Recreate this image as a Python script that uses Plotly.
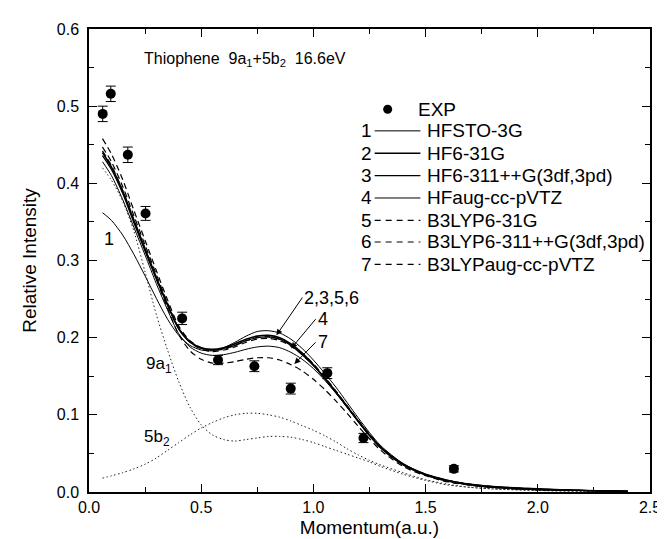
import plotly.graph_objects as go

# experimental momentum profile
expX = [0.061, 0.097, 0.173, 0.252, 0.415, 0.575, 0.737, 0.899, 1.062, 1.223, 1.626]
expY = [0.490, 0.516, 0.437, 0.361, 0.225, 0.171, 0.163, 0.134, 0.154, 0.070, 0.030]
expErr = [0.010, 0.010, 0.010, 0.009, 0.008, 0.006, 0.007, 0.007, 0.007, 0.006, 0.004]

# theory curves, all on the same momentum grid
momentum = [0.06, 0.1, 0.15, 0.2, 0.25, 0.3, 0.35, 0.4, 0.45, 0.5, 0.55, 0.6, 0.65, 0.7,
            0.75, 0.8, 0.85, 0.9, 0.95, 1.0, 1.05, 1.1, 1.15, 1.2, 1.25, 1.3, 1.4, 1.5,
            1.6, 1.7, 1.8, 2.0, 2.2, 2.4]
hfSto3g = [0.362, 0.352, 0.333, 0.308, 0.280, 0.251, 0.224, 0.203, 0.190, 0.184, 0.183, 0.187,
           0.194, 0.202, 0.208, 0.209, 0.206, 0.198, 0.186, 0.171, 0.154, 0.136, 0.116, 0.096,
           0.077, 0.060, 0.037, 0.023, 0.015, 0.010, 0.007, 0.004, 0.002, 0.001]
hf631g = [0.440, 0.421, 0.390, 0.352, 0.315, 0.278, 0.243, 0.212, 0.195, 0.187, 0.185, 0.187,
          0.192, 0.198, 0.202, 0.203, 0.200, 0.192, 0.180, 0.165, 0.148, 0.130, 0.111, 0.092,
          0.074, 0.058, 0.036, 0.023, 0.015, 0.010, 0.007, 0.004, 0.002, 0.001]
hf6311g = [0.436, 0.418, 0.387, 0.349, 0.312, 0.276, 0.242, 0.211, 0.194, 0.186, 0.184, 0.186,
           0.190, 0.196, 0.200, 0.201, 0.198, 0.190, 0.178, 0.164, 0.147, 0.129, 0.110, 0.091,
           0.073, 0.057, 0.035, 0.022, 0.014, 0.009, 0.006, 0.003, 0.002, 0.001]
hfAug = [0.428, 0.410, 0.379, 0.343, 0.307, 0.270, 0.236, 0.205, 0.188, 0.180, 0.177, 0.178,
         0.181, 0.185, 0.188, 0.189, 0.187, 0.181, 0.172, 0.160, 0.145, 0.128, 0.110, 0.091,
         0.073, 0.057, 0.035, 0.022, 0.014, 0.009, 0.006, 0.003, 0.002, 0.001]
b3lyp631g = [0.458, 0.438, 0.405, 0.365, 0.326, 0.287, 0.249, 0.215, 0.196, 0.187, 0.184, 0.185,
             0.190, 0.196, 0.200, 0.201, 0.198, 0.191, 0.180, 0.166, 0.149, 0.131, 0.112, 0.093,
             0.075, 0.059, 0.036, 0.023, 0.015, 0.010, 0.007, 0.004, 0.002, 0.001]
b3lyp6311g = [0.447, 0.428, 0.396, 0.358, 0.320, 0.282, 0.245, 0.212, 0.194, 0.185, 0.182, 0.184,
              0.188, 0.194, 0.198, 0.199, 0.196, 0.189, 0.178, 0.164, 0.148, 0.130, 0.111, 0.092,
              0.074, 0.058, 0.036, 0.022, 0.014, 0.009, 0.006, 0.003, 0.002, 0.001]
b3lypAug = [0.442, 0.423, 0.391, 0.353, 0.315, 0.276, 0.238, 0.204, 0.183, 0.172, 0.167, 0.167,
            0.169, 0.172, 0.174, 0.174, 0.171, 0.165, 0.157, 0.146, 0.133, 0.118, 0.102, 0.085,
            0.069, 0.054, 0.033, 0.021, 0.013, 0.009, 0.006, 0.003, 0.002, 0.001]
# orbital components
orb9a1 = [0.420, 0.404, 0.377, 0.338, 0.285, 0.230, 0.184, 0.143, 0.110, 0.087, 0.074, 0.068,
          0.066, 0.068, 0.070, 0.072, 0.072, 0.071, 0.068, 0.064, 0.059, 0.054, 0.049, 0.044,
          0.039, 0.033, 0.023, 0.015, 0.009, 0.006, 0.004, 0.002, 0.001, 0.0005]
orb5b2 = [0.018, 0.021, 0.025, 0.030, 0.036, 0.044, 0.054, 0.064, 0.074, 0.083, 0.090, 0.096,
          0.100, 0.102, 0.102, 0.100, 0.097, 0.092, 0.086, 0.080, 0.073, 0.065, 0.056, 0.048,
          0.041, 0.035, 0.025, 0.016, 0.010, 0.006, 0.004, 0.002, 0.001, 0.0005]

legendNames = ["HFSTO-3G", "HF6-31G", "HF6-311++G(3df,3pd)", "HFaug-cc-pVTZ",
               "B3LYP6-31G", "B3LYP6-311++G(3df,3pd)", "B3LYPaug-cc-pVTZ"]

FONT = "Liberation Sans, Arial, sans-serif"
DASH = "6px,4px"
DOT = "1.5px,2.5px"


def addCurve(fig, y, width, dash="solid", color="black"):
    fig.add_trace(go.Scatter(x=momentum, y=y, mode="lines", showlegend=False,
                             line=dict(color=color, width=width, dash=dash,
                                       shape="spline", smoothing=0.8)))


def main():
    fig = go.Figure()

    addCurve(fig, orb9a1, 1, DOT, "#222")
    addCurve(fig, orb5b2, 1, DOT, "#222")
    styles = [(1.0, "solid"), (1.6, "solid"), (1.3, "solid"), (1.0, "solid"),
              (1.2, DASH), (1.2, DASH), (1.2, DASH)]
    for ys, (w, d) in zip([hfSto3g, hf631g, hf6311g, hfAug, b3lyp631g, b3lyp6311g, b3lypAug], styles):
        addCurve(fig, ys, w, d)

    fig.add_trace(go.Scatter(x=expX, y=expY, mode="markers", showlegend=False,
                             marker=dict(color="black", size=10),
                             error_y=dict(type="data", array=expErr, color="black",
                                          thickness=1, width=5)))

    # hand-drawn legend, numbers in front of the line keys as in the original
    rows = [0.496, 0.468, 0.439, 0.410, 0.381, 0.352, 0.324, 0.295]
    fig.add_shape(type="circle", xref="x", yref="y", xsizemode="pixel", ysizemode="pixel",
                  xanchor=1.331, yanchor=rows[0], x0=-4.5, x1=4.5, y0=-4.5, y1=4.5,
                  fillcolor="black", line=dict(color="black", width=0))
    fig.add_annotation(x=1.455, y=rows[0], text="EXP", showarrow=False, xanchor="left",
                       font=dict(size=19))
    for i, name in enumerate(legendNames):
        w, d = styles[i]
        yy = rows[i + 1]
        fig.add_shape(type="line", xref="x", yref="y", x0=1.273, x1=1.477, y0=yy, y1=yy,
                      line=dict(color="black", width=w, dash="6px,5px" if d != "solid" else "solid"))
        fig.add_annotation(x=1.272, y=yy, text=str(i + 1), showarrow=False, xanchor="right",
                           font=dict(size=19))
        fig.add_annotation(x=1.497, y=yy, text=name, showarrow=False, xanchor="left",
                           font=dict(size=19))

    # labels on the plot
    fig.add_annotation(x=0.236, y=0.561, showarrow=False, xanchor="left", font=dict(size=16),
                       text="Thiophene\u00a0\u00a09a<sub>1</sub>+5b<sub>2</sub>\u00a0\u00a016.6eV")
    fig.add_annotation(x=0.088, y=0.328, text="1", showarrow=False, font=dict(size=18))
    fig.add_annotation(x=0.311, y=0.164, text="9a<sub>1</sub>", showarrow=False, font=dict(size=17))
    fig.add_annotation(x=0.302, y=0.070, text="5b<sub>2</sub>", showarrow=False, font=dict(size=17))

    # arrow labels: text sits at the tail, arrow points to the curve
    arrowLabels = [("2,3,5,6", (0.951, 0.252), (0.835, 0.203)),
                   ("4", (1.010, 0.224), (0.901, 0.186)),
                   ("7", (1.010, 0.194), (0.915, 0.166))]
    for txt, (ax, ay), (x, y) in arrowLabels:
        fig.add_annotation(x=x, y=y, ax=ax, ay=ay, xref="x", yref="y", axref="x", ayref="y",
                           text=txt, xanchor="left", yanchor="middle", font=dict(size=18),
                           showarrow=True, arrowhead=2, arrowsize=1.2, arrowwidth=1,
                           arrowcolor="black")

    axisStyle = dict(showgrid=False, zeroline=False, showline=True, linecolor="black",
                     linewidth=1.5, mirror="ticks", ticks="inside", ticklen=8, tickwidth=1.2,
                     tickcolor="black", tickfont=dict(size=16, color="black"))
    fig.update_xaxes(range=[0, 2.5], dtick=0.5, tickformat=".1f",
                     minor=dict(ticks="inside", ticklen=5, dtick=0.25, tickcolor="black"),
                     title=dict(text="Momentum(a.u.)", font=dict(size=19), standoff=6),
                     **axisStyle)
    fig.update_yaxes(range=[0, 0.6], dtick=0.1, tickformat=".1f", ticklabelstandoff=5,
                     minor=dict(ticks="inside", ticklen=5, dtick=0.05, tickcolor="black"),
                     title=dict(text="Relative Intensity", font=dict(size=19), standoff=15),
                     **axisStyle)

    fig.update_layout(width=665, height=539, margin=dict(l=81, r=13, t=21, b=53),
                      plot_bgcolor="white", paper_bgcolor="white",
                      font=dict(family=FONT, color="black"))
    fig.write_html("out.html")


if __name__ == "__main__":
    main()
